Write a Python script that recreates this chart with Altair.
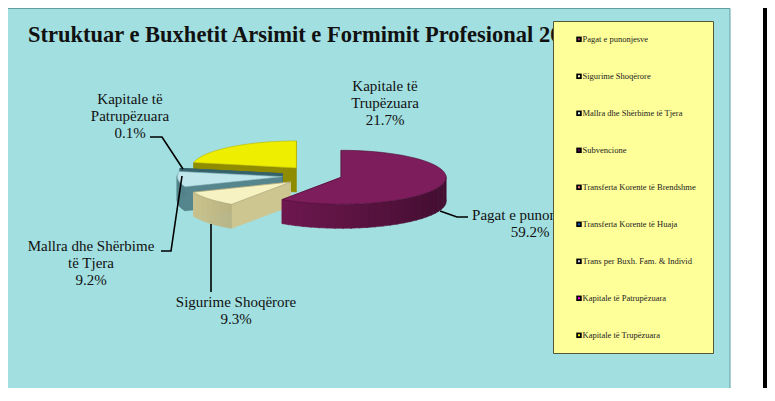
import altair as alt
import pandas as pd

# ---------------- data ----------------
categories = [
    "Pagat e punonjesve",
    "Sigurime Shoqërore",
    "Mallra dhe Shërbime të Tjera",
    "Subvencione",
    "Transferta Korente të Brendshme",
    "Transferta Korente të Huaja",
    "Trans per Buxh. Fam. & Individ",
    "Kapitale të Patrupëzuara",
    "Kapitale të Trupëzuara",
]
shares = [59.2, 9.3, 9.2, 0.0, 0.0, 0.0, 0.0, 0.1, 21.7]
title_text = "Struktuar e Buxhetit Arsimit e Formimit Profesional 20"
label_lines = {
    "Pagat e punonjesve": ["Pagat e punonjesve"],
    "Sigurime Shoqërore": ["Sigurime Shoqërore"],
    "Mallra dhe Shërbime të Tjera": ["Mallra dhe Shërbime", "të Tjera"],
    "Kapitale të Patrupëzuara": ["Kapitale të", "Patrupëzuara"],
    "Kapitale të Trupëzuara": ["Kapitale të", "Trupëzuara"],
}

# ---------------- styles ----------------
legend_colors = ["#993366", "#ffffcc", "#ccffff", "#660066", "#ff8080",
                 "#0066cc", "#ccccff", "#ff00ff", "#ffff00"]
top_colors = ["#7d1d5b", "#f6f2c2", "#bfe6eb", "#660066", "#ff8080",
              "#0066cc", "#ccccff", "#3f7480", "#eeee00"]
side_colors = ["#7a1a58", "#cdc690", "#55858d", "#440044", "#aa5555",
               "#004488", "#8888aa", "#35636c", "#8f8c00"]
edge_colors = ["#4a0e35", "#9c9670", "#7fa9b0", "#440044", "#aa5555",
               "#004488", "#8888aa", "#35636c", "#b5b000"]
explode = [0.2, 0.37, 0.37, 0.37, 0.37, 0.37, 0.37, 0.37, 0.37]
PANEL = "#a2dfe0"
PANEL_EDGE = "#5f9ea0"
LEGEND_FILL = "#ffff99"
LEGEND_EDGE = "#55553a"
SERIF = "Liberation Serif"

# ---------------- layout ----------------
W, H = 759, 380
CX, CY, RX, RY, DEPTH, N = 321, 175.7, 105, 27, 24, 48
LINE_H = 17
label_pos = {
    "Kapitale të Trupëzuara": (385, 86),
    "Kapitale të Patrupëzuara": (130, 99),
    "Mallra dhe Shërbime të Tjera": (91, 246),
    "Sigurime Shoqërore": (236, 302),
    "Pagat e punonjesve": (530, 215),
}
leaders = {
    "Kapitale të Patrupëzuara": [(150, 137), (162, 137), (183, 169)],
    "Mallra dhe Shërbime të Tjera": [(161, 251), (171, 251), (182, 176)],
    "Sigurime Shoqërore": [(211, 224), (211, 292)],
    "Pagat e punonjesve": [(440, 211), (457, 217), (468, 217)],
}

XS = alt.Scale(domain=[8, 8 + W], nice=False, zero=False)
YS = alt.Scale(domain=[8, 8 + H], nice=False, zero=False, reverse=True)


def X(f):
    return alt.X(f, type="quantitative", scale=XS, axis=None)


def Y(f):
    return alt.Y(f, type="quantitative", scale=YS, axis=None)


def hex_rgb(h):
    h = h.lstrip("#")
    return int(h[0:2], 16), int(h[2:4], 16), int(h[4:6], 16)


# ---------------- tables ----------------
pie_df = pd.DataFrame({
    "cat": categories,
    "value": shares,
    "i": list(range(len(categories))),
    "e": explode,
    "topc": top_colors,
    "sidec": side_colors,
    "edgec": edge_colors,
    "sr": [hex_rgb(c)[0] for c in side_colors],
    "sg": [hex_rgb(c)[1] for c in side_colors],
    "sb": [hex_rgb(c)[2] for c in side_colors],
})

frame_df = pd.DataFrame({"x": [0], "x2": [730], "y": [8.5], "y2": [388.5]})
bar_df = pd.DataFrame({"x": [763], "x2": [775], "y": [0], "y2": [401]})
legend_box_df = pd.DataFrame({"x": [553.5], "x2": [713.5], "y": [21.5], "y2": [353.5]})
title_df = pd.DataFrame({"text": [title_text], "x": [28], "y": [42]})

lab_rows = []
for cat, (lx, ly) in label_pos.items():
    pct = shares[categories.index(cat)]
    lines = label_lines[cat] + [f"{pct:.1f}%"]
    for j, line in enumerate(lines):
        lab_rows.append({"text": line, "x": lx, "y": ly + j * LINE_H})
labels_df = pd.DataFrame(lab_rows)

lead_rows = []
for cat, pts in leaders.items():
    for j, (px, py) in enumerate(pts):
        lead_rows.append({"cat": cat, "j": j, "x": px, "y": py})
leaders_df = pd.DataFrame(lead_rows)

legend_df = pd.DataFrame({
    "cat": categories,
    "idx": list(range(len(categories))),
    "col": legend_colors,
})

# ---------------- layers ----------------
panel = alt.Chart(frame_df).mark_rect(fill=PANEL, stroke=PANEL_EDGE, strokeWidth=1).encode(
    x=X("x"), x2="x2", y=Y("y"), y2="y2")
side_bar = alt.Chart(bar_df).mark_rect(fill="black").encode(
    x=X("x"), x2="x2", y=Y("y"), y2="y2")

title = alt.Chart(title_df).mark_text(
    align="left", baseline="alphabetic", font=SERIF, fontSize=22.5, fontWeight="bold", color="#111111"
).encode(x=X("x"), y=Y("y"), text="text:N")


def pie_base(cat):
    return (
        alt.Chart(pie_df)
        .transform_window(cum="sum(value)", sort=[alt.SortField("i")], frame=[None, 0])
        .transform_joinaggregate(total="sum(value)")
        .transform_calculate(a1="2*PI*datum.cum/datum.total")
        .transform_calculate(a0="2*PI*(datum.cum-datum.value)/datum.total")
        .transform_calculate(m="(datum.a0+datum.a1)/2")
        .transform_calculate(ox=f"{CX}+datum.e*{RX}*sin(datum.m)")
        .transform_calculate(oy=f"{CY}-datum.e*{RY}*cos(datum.m)")
        .transform_filter(alt.datum.cat == cat)
    )


def slice_layers(cat):
    # radial cut faces
    radial = (
        pie_base(cat)
        .transform_calculate(part="[2,3]")
        .transform_flatten(["part"])
        .transform_calculate(k="[0,1,2,3]")
        .transform_flatten(["k"])
        .transform_calculate(ang="datum.part==2 ? datum.a0 : datum.a1")
        .transform_calculate(rim="datum.k==1 || datum.k==2")
        .transform_calculate(px=f"datum.ox + (datum.rim ? {RX}*sin(datum.ang) : 0)")
        .transform_calculate(py=f"datum.oy + (datum.rim ? -{RY}*cos(datum.ang) : 0) + (datum.k>=2 ? {DEPTH} : 0)")
        .transform_calculate(grp="datum.cat + '|' + datum.part")
        .mark_line(strokeWidth=0.6)
        .encode(
            x=X("px"), y=Y("py"), order=alt.Order("k:Q"), detail="grp:N",
            fill=alt.Fill("sidec:N", scale=None),
            stroke=alt.Stroke("sidec:N", scale=None),
        )
    )
    # outer wall, segment by segment with shading
    wall = (
        pie_base(cat)
        .transform_calculate(s=f"sequence(0, {N})")
        .transform_flatten(["s"])
        .transform_calculate(k="[0,1,2,3]")
        .transform_flatten(["k"])
        .transform_calculate(t="datum.s + (datum.k==1 || datum.k==2 ? 1.15 : 0)")
        .transform_calculate(ang=f"datum.a0+(datum.a1-datum.a0)*min(datum.t,{N})/{N}")
        .transform_calculate(mid=f"datum.a0+(datum.a1-datum.a0)*(datum.s+0.5)/{N}")
        .transform_filter("cos(datum.mid) < 0.08")
        .transform_calculate(px=f"datum.ox + {RX}*sin(datum.ang)")
        .transform_calculate(py=f"datum.oy - {RY}*cos(datum.ang) + (datum.k>=2 ? {DEPTH} : 0)")
        .transform_calculate(f="1 - 0.45*(1+sin(datum.mid))/2")
        .transform_calculate(
            col="'rgb(' + round(datum.sr*datum.f) + ',' + round(datum.sg*datum.f) + ',' + round(datum.sb*datum.f) + ')'")
        .transform_calculate(grp="datum.cat + '|' + datum.s")
        .mark_line(strokeWidth=0.6)
        .encode(
            x=X("px"), y=Y("py"), order=alt.Order("k:Q"), detail="grp:N",
            fill=alt.Fill("col:N", scale=None),
            stroke=alt.Stroke("col:N", scale=None),
        )
    )
    # top face
    top = (
        pie_base(cat)
        .transform_calculate(k=f"sequence(0, {N + 3})")
        .transform_flatten(["k"])
        .transform_calculate(ang=f"datum.a0+(datum.a1-datum.a0)*(datum.k-1)/{N}")
        .transform_calculate(apex=f"datum.k==0 || datum.k=={N + 2}")
        .transform_calculate(px=f"datum.apex ? datum.ox : datum.ox+{RX}*sin(datum.ang)")
        .transform_calculate(py=f"datum.apex ? datum.oy : datum.oy-{RY}*cos(datum.ang)")
        .mark_line(strokeWidth=0.7, strokeOpacity=0.8)
        .encode(
            x=X("px"), y=Y("py"), order=alt.Order("k:Q"), detail="cat:N",
            fill=alt.Fill("topc:N", scale=None),
            stroke=alt.Stroke("edgec:N", scale=None),
        )
    )
    return [radial, wall, top]


# paint slices back to front (reverse of series order)
pie_layers = []
for cat, val in reversed(list(zip(categories, shares))):
    if val > 0:
        pie_layers.extend(slice_layers(cat))

lead = alt.Chart(leaders_df).mark_line(color="black", strokeWidth=1.6).encode(
    x=X("x"), y=Y("y"), order=alt.Order("j:Q"), detail="cat:N")

labels = alt.Chart(labels_df).mark_text(
    align="center", baseline="middle", font=SERIF, fontSize=15, color="#111111"
).encode(x=X("x"), y=Y("y"), text="text:N")

legend_box = alt.Chart(legend_box_df).mark_rect(
    fill=LEGEND_FILL, stroke=LEGEND_EDGE, strokeWidth=1).encode(
    x=X("x"), x2="x2", y=Y("y"), y2="y2")

legend_base = alt.Chart(legend_df).transform_calculate(
    ly="39.3 + 37*datum.idx", mx="579", tx="582.5")
legend_marker = legend_base.mark_square(size=30, color="black", opacity=1).encode(
    x=X("mx"), y=Y("ly"))
legend_inner = legend_base.mark_square(size=4, opacity=1).encode(
    x=X("mx"), y=Y("ly"), color=alt.Color("col:N", scale=None))
legend_text = legend_base.mark_text(
    align="left", baseline="middle", font=SERIF, fontSize=8.5, color="#222222"
).encode(x=X("tx"), y=Y("ly"), text="cat:N")

chart = alt.layer(
    panel, side_bar, title, *pie_layers, lead, labels,
    legend_box, legend_marker, legend_inner, legend_text,
).properties(
    width=W, height=H, padding=0, autosize="none", background="white"
).configure_view(stroke=None)

chart.save("out.html", embed_options={"renderer": "svg", "actions": False})
